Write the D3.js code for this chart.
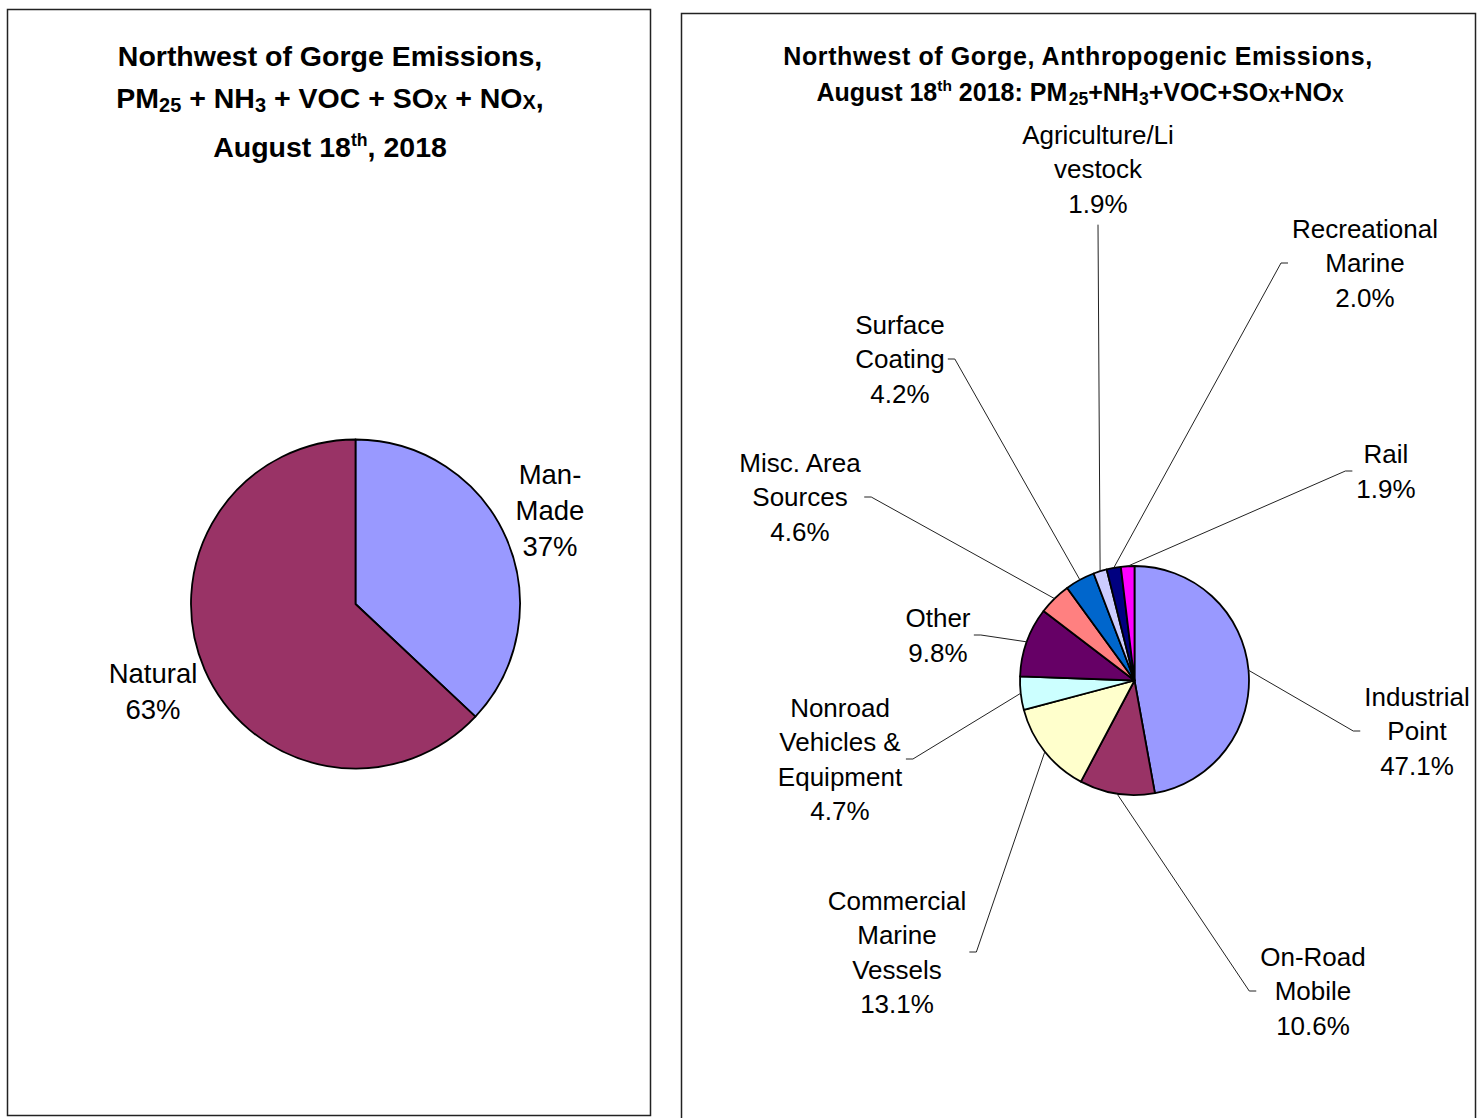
<!DOCTYPE html>
<html lang="en">
<head>
<meta charset="UTF-8">
<title>Northwest of Gorge Emissions</title>
<style>
  body { margin: 0; background: #fff; }
  svg text { font-family: "Liberation Sans", Arial, sans-serif; fill: #000; }
  .title { font-weight: bold; text-anchor: middle; }
  .lbl { text-anchor: middle; }
</style>
</head>
<body>
<svg></svg>
<script src="https://d3js.org/d3.v7.min.js"></script>
<script>

// ---- data ----
var totalNames = ["Man-Made", "Natural"];
var totalLabels = [["Man-", "Made", "37%"], ["Natural", "63%"]];
var totalValues = [37, 63];
var totalColors = ["#9999FF", "#993366"];

var srcNames = ["Industrial Point", "On-Road Mobile", "Commercial Marine Vessels",
  "Nonroad Vehicles & Equipment", "Other", "Misc. Area Sources", "Surface Coating",
  "Agriculture/Livestock", "Recreational Marine", "Rail"];
var srcLabels = [
  ["Industrial", "Point", "47.1%"],
  ["On-Road", "Mobile", "10.6%"],
  ["Commercial", "Marine", "Vessels", "13.1%"],
  ["Nonroad", "Vehicles &", "Equipment", "4.7%"],
  ["Other", "9.8%"],
  ["Misc. Area", "Sources", "4.6%"],
  ["Surface", "Coating", "4.2%"],
  ["Agriculture/Li", "vestock", "1.9%"],
  ["Recreational", "Marine", "2.0%"],
  ["Rail", "1.9%"]
];
var srcValues = [47.1, 10.6, 13.1, 4.7, 9.8, 4.6, 4.2, 1.9, 2.0, 1.9];
var srcColors = ["#9999FF", "#993366", "#FFFFCC", "#CCFFFF", "#660066",
  "#FF8080", "#0066CC", "#CCCCFF", "#000080", "#FF00FF"];

// ---- layout ----
var W = 1477, H = 1118;
var svg = d3.select("svg").attr("width", W).attr("height", H);

// panel frames
svg.append("rect").attr("x", 7.5).attr("y", 9.5).attr("width", 643).attr("height", 1106)
  .attr("fill", "none").attr("stroke", "#222").attr("stroke-width", 1.5);
svg.append("rect").attr("x", 681.5).attr("y", 13.5).attr("width", 794).attr("height", 1130)
  .attr("fill", "none").attr("stroke", "#222").attr("stroke-width", 1.5);

// titles
function titleLine(x, y, size, parts) {
  var t = svg.append("text").attr("class", "title").attr("x", x).attr("y", y)
    .style("font-size", size + "px");
  parts.forEach(function(p) {
    var s = t.append("tspan").text(p[0]);
    if (p[1] == "sub") s.style("font-size", (size * 0.7) + "px").attr("dy", size * 0.15);
    if (p[1] == "subx") s.style("font-size", (size * 0.7) + "px").attr("dy", size * 0.05);
    if (p[1] == "sup") s.style("font-size", (size * 0.62) + "px").attr("dy", -size * 0.4);
    if (p[2]) s.attr("dy", p[2]);
  });
  return t;
}

var s1 = 28.5;
titleLine(330, 66, s1, [["Northwest of Gorge Emissions,"]]);
titleLine(330, 108, s1, [["PM"], ["25", "sub"], [" + NH", null, -s1 * 0.15], ["3", "sub"],
  [" + VOC + SO", null, -s1 * 0.15], ["X", "subx"], [" + NO", null, -s1 * 0.05], ["X", "subx"], [",", null, -s1 * 0.05]]);
titleLine(330, 157, s1, [["August 18"], ["th", "sup"], [", 2018", null, s1 * 0.4]]);

var s2 = 25;
titleLine(1078, 65, s2, [["Northwest of Gorge, Anthropogenic Emissions,"]])
  .style("letter-spacing", "0.6px");
titleLine(1080, 101, s2, [["August 18"], ["th", "sup"], [" 2018: PM", null, s2 * 0.4], ["\u200A25", "sub"],
  ["+NH", null, -s2 * 0.15], ["3", "sub"], ["+VOC+SO", null, -s2 * 0.15], ["X", "subx"],
  ["+NO", null, -s2 * 0.05], ["X", "subx"]]);

// generic pie drawing
function drawPie(cx, cy, r, values, colors) {
  var pie = d3.pie().sort(null).value(function(d) { return d; });
  var arcs = pie(values);
  var arc = d3.arc().innerRadius(0).outerRadius(r);
  var g = svg.append("g").attr("transform", "translate(" + cx + "," + cy + ")");
  g.selectAll("path").data(arcs).enter().append("path")
    .attr("d", arc)
    .attr("fill", function(d, i) { return colors[i]; })
    .attr("stroke", "#000").attr("stroke-width", 1.8).attr("stroke-linejoin", "round");
  return arcs;
}

function drawLabel(x, cy, lines, size, spacing) {
  var n = lines.length;
  var top = cy - (n - 1) * spacing / 2;
  var t = svg.append("text").attr("class", "lbl").style("font-size", size + "px");
  lines.forEach(function(l, i) {
    t.append("tspan").attr("x", x).attr("y", top + i * spacing + size * 0.36).text(l);
  });
  return t.node().getBBox();
}

// ---- left pie ----
var cxA = 355.5, cyA = 604, rA = 164.5;
drawPie(cxA, cyA, rA, totalValues, totalColors);
var leftPos = [[550, 510], [153, 691]];
totalLabels.forEach(function(l, i) {
  drawLabel(leftPos[i][0], leftPos[i][1], l, 27.5, 36);
});

// ---- right pie ----
var cxB = 1134.5, cyB = 680.5, rB = 114.5;
var arcsB = drawPie(cxB, cyB, rB, srcValues, srcColors);

// label centres and which side the leader attaches to
var srcPos = [
  [1417, 731, "left"], [1313, 991, "left"], [897, 952, "right"], [840, 759, "right"],
  [938, 635, "right"], [800, 497, "right"], [900, 359, "right"], [1098, 169, "bottom"],
  [1365, 263, "left"], [1386, 471, "left"]
];

srcLabels.forEach(function(l, i) {
  var p = srcPos[i];
  var bb = drawLabel(p[0], p[1], l, 26, 34.3);
  var a = (arcsB[i].startAngle + arcsB[i].endAngle) / 2;
  var sx = cxB + rB * Math.sin(a), sy = cyB - rB * Math.cos(a);
  var pts;
  if (p[2] == "left") {
    pts = [[bb.x - 4, p[1]], [bb.x - 11, p[1]], [sx, sy]];
  } else if (p[2] == "right") {
    pts = [[bb.x + bb.width + 3, p[1]], [bb.x + bb.width + 10, p[1]], [sx, sy]];
  } else {
    pts = [[p[0], bb.y + bb.height + 6], [sx, sy]];
  }
  svg.append("path").attr("d", d3.line()(pts))
    .attr("fill", "none").attr("stroke", "#222").attr("stroke-width", 1);
});

</script>
</body>
</html>
